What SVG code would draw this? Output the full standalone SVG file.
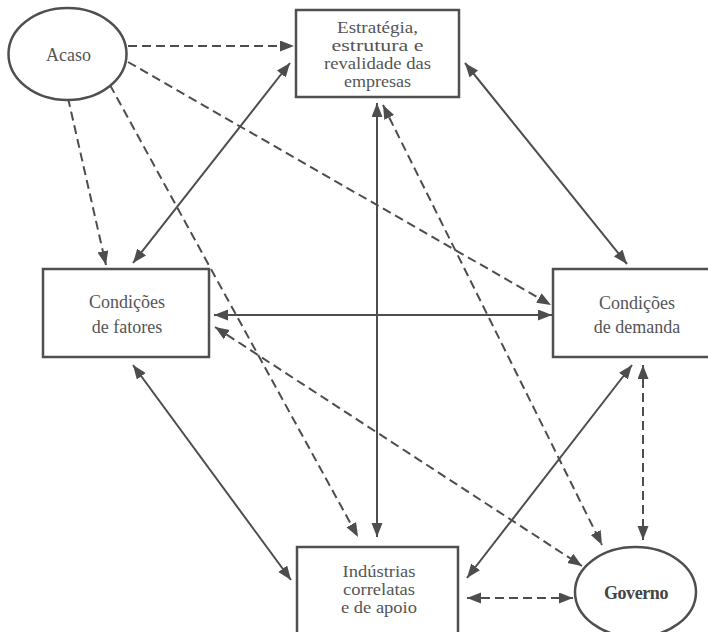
<svg xmlns="http://www.w3.org/2000/svg" width="708" height="632" viewBox="0 0 708 632">
<style>
.box{fill:#fff;stroke:#4f4f4f;stroke-width:2.5}
.lbl{font-family:"Liberation Serif","Times New Roman",serif;font-size:18px;fill:#555;text-anchor:middle}
.sm{font-size:16px}
.gov{font-weight:bold;fill:#444;font-size:18px;letter-spacing:-0.4px}
.c{stroke:#4d4d4d;stroke-width:2;fill:none}
.d{stroke-dasharray:9 5}
.one{marker-end:url(#ah)}
.two{marker-start:url(#ah);marker-end:url(#ah)}
</style>
<defs>
<marker id="ah" markerUnits="userSpaceOnUse" markerWidth="16" markerHeight="12" refX="14" refY="5.5" orient="auto-start-reverse">
<path d="M0,0 L14,5.5 L0,11 Z" fill="#4d4d4d"/>
</marker>
</defs>
<rect width="708" height="632" fill="#fff"/>
<g id="connectors">
<line class="c d one" x1="128" y1="46" x2="294" y2="46"/>
<line class="c d one" x1="128" y1="62" x2="551" y2="305"/>
<line class="c d one" x1="68" y1="98" x2="106" y2="265"/>
<line class="c d one" x1="110" y1="85" x2="358" y2="537"/>
<line class="c two" x1="133" y1="263" x2="290" y2="63"/>
<line class="c two" x1="377" y1="103" x2="377" y2="537"/>
<line class="c d two" x1="383" y1="105" x2="602" y2="545"/>
<line class="c two" x1="465" y1="63" x2="627" y2="264"/>
<line class="c two" x1="214" y1="315" x2="552" y2="315"/>
<line class="c d two" x1="215" y1="327" x2="582" y2="566"/>
<line class="c two" x1="133" y1="365" x2="291" y2="580"/>
<line class="c two" x1="467" y1="578" x2="632" y2="365"/>
<line class="c d two" x1="643" y1="365" x2="643" y2="540"/>
<line class="c d two" x1="467" y1="598" x2="573" y2="598"/>
</g>
<g id="acaso">
<ellipse class="box" cx="67.5" cy="54" rx="59" ry="46"/>
<text class="lbl" x="68.5" y="61">Acaso</text>
</g>
<g id="estrategia">
<rect class="box" x="296" y="10" width="163" height="87"/>
<text class="lbl sm" x="377.5" y="33" textLength="81" lengthAdjust="spacingAndGlyphs">Estratégia,</text>
<text class="lbl sm" x="377.5" y="51" textLength="92" lengthAdjust="spacingAndGlyphs">estrutura e</text>
<text class="lbl sm" x="377.5" y="69" textLength="107" lengthAdjust="spacingAndGlyphs">revalidade das</text>
<text class="lbl sm" x="377.5" y="87" textLength="67" lengthAdjust="spacingAndGlyphs">empresas</text>
</g>
<g id="fatores">
<rect class="box" x="43" y="269" width="166" height="88"/>
<text class="lbl" x="127" y="308">Condições</text>
<text class="lbl" x="127" y="333">de fatores</text>
</g>
<g id="demanda">
<rect class="box" x="553" y="269" width="168" height="88"/>
<text class="lbl" x="637" y="309">Condições</text>
<text class="lbl" x="637" y="333">de demanda</text>
</g>
<g id="industrias">
<rect class="box" x="297" y="547" width="161" height="100"/>
<text class="lbl sm" x="379" y="577" textLength="73" lengthAdjust="spacingAndGlyphs">Indústrias</text>
<text class="lbl sm" x="379" y="595" textLength="72" lengthAdjust="spacingAndGlyphs">correlatas</text>
<text class="lbl sm" x="379" y="613" textLength="76" lengthAdjust="spacingAndGlyphs">e de apoio</text>
</g>
<g id="governo">
<ellipse class="box" cx="635.5" cy="592" rx="60.5" ry="45"/>
<text class="lbl gov" x="636" y="599">Governo</text>
</g>
</svg>
